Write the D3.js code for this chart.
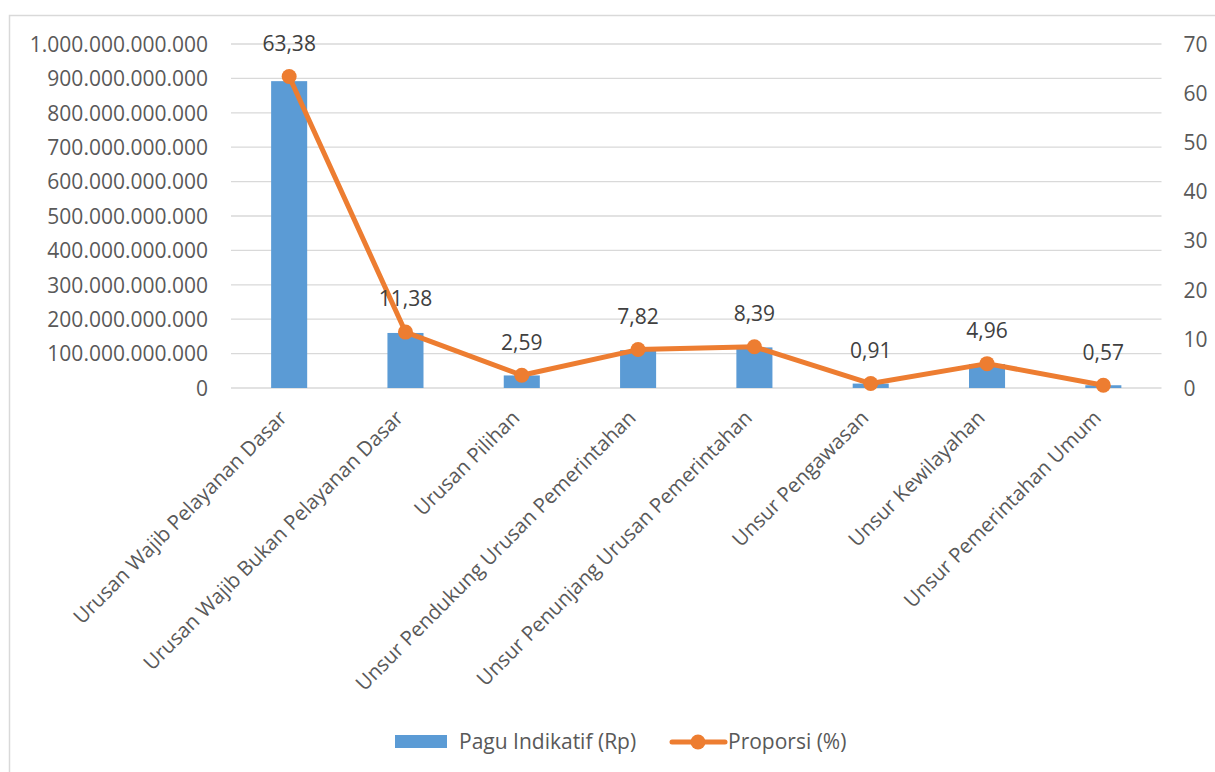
<!DOCTYPE html>
<meta charset="utf-8">
<style>
  html, body {
    margin: 0;
    padding: 0;
    background: #fff;
  }
  svg {
    display: block;
  }
  svg text {
    font-family: "Open Sans", sans-serif;
  }
  .grid line {
    stroke: #d9d9d9;
    stroke-width: 1.3;
  }
  .axis text {
    fill: #595959;
    font-size: 21px;
  }
  .axis.cat text {
    font-size: 20.4px;
  }
  .dlabel {
    fill: #404040;
    font-size: 21px;
  }
  .legend text {
    fill: #595959;
    font-size: 21px;
  }
</style>
<body>
<div id="chart"></div>
<script src="https://cdnjs.cloudflare.com/ajax/libs/d3/7.8.5/d3.min.js"></script>
<script>
var categories = [
  "Urusan Wajib Pelayanan Dasar",
  "Urusan Wajib Bukan Pelayanan Dasar",
  "Urusan Pilihan",
  "Unsur Pendukung Urusan Pemerintahan",
  "Unsur Penunjang Urusan Pemerintahan",
  "Unsur Pengawasan",
  "Unsur Kewilayahan",
  "Unsur Pemerintahan Umum"
];
// Pagu Indikatif (Rp)
var pagu = [892e9, 160e9, 36.5e9, 110e9, 118e9, 12.8e9, 69.8e9, 8e9];
// Proporsi (%)
var proporsi = [63.38, 11.38, 2.59, 7.82, 8.39, 0.91, 4.96, 0.57];
var leftTicks = [0, 1e11, 2e11, 3e11, 4e11, 5e11, 6e11, 7e11, 8e11, 9e11, 1e12];
var rightTicks = [0, 10, 20, 30, 40, 50, 60, 70];
var seriesNames = ["Pagu Indikatif (Rp)", "Proporsi (%)"];

var W = 1215, H = 772;
var plot = {left: 231, right: 1161.5, top: 44, bottom: 388};

var svg = d3.select("#chart").append("svg")
  .attr("width", W)
  .attr("height", H);

// chart frame
svg.append("rect")
  .attr("x", 9.5).attr("y", 15.5)
  .attr("width", W + 20).attr("height", H + 20)
  .attr("fill", "#fff")
  .attr("stroke", "#d9d9d9")
  .attr("stroke-width", 1.5);

var x = d3.scaleBand()
  .domain(categories)
  .range([plot.left, plot.right])
  .paddingInner(0.69)
  .paddingOuter(0.345);

var yL = d3.scaleLinear().domain([0, 1e12]).range([plot.bottom, plot.top]);
var yR = d3.scaleLinear().domain([0, 70]).range([plot.bottom, plot.top]);

var fmtRp = function(v) {
  return d3.format(",.0f")(v).replace(/,/g, ".");
};
var fmtPct = function(v) {
  return d3.format(".2f")(v).replace(".", ",");
};

// gridlines
svg.append("g")
  .attr("class", "grid")
  .selectAll("line")
  .data(leftTicks)
  .enter()
    .append("line")
    .attr("x1", plot.left)
    .attr("x2", plot.right)
    .attr("y1", function(d) { return yL(d); })
    .attr("y2", function(d) { return yL(d); });

// left axis
var gl = svg.append("g")
  .attr("class", "axis")
  .attr("transform", "translate(" + (plot.left - 23) + ",0)")
  .call(d3.axisLeft(yL).tickValues(leftTicks).tickFormat(fmtRp).tickSize(0).tickPadding(0));
gl.select(".domain").remove();
gl.selectAll("text").attr("dy", "0.35em");

// right axis
var gr = svg.append("g")
  .attr("class", "axis")
  .attr("transform", "translate(" + (plot.right + 22) + ",0)")
  .call(d3.axisRight(yR).tickValues(rightTicks).tickSize(0).tickPadding(0));
gr.select(".domain").remove();
gr.selectAll("text").attr("dy", "0.35em");

// category axis
var gx = svg.append("g")
  .attr("class", "axis cat")
  .attr("transform", "translate(0," + (plot.bottom + 14) + ")")
  .call(d3.axisBottom(x).tickSize(0).tickPadding(0));
gx.select(".domain").remove();
gx.selectAll("text")
  .attr("text-anchor", "end")
  .attr("dy", "0.35em")
  .attr("y", 0)
  .attr("transform", "translate(-6,12) rotate(-45)");

// bars
svg.append("g")
  .selectAll("rect")
  .data(pagu)
  .enter()
    .append("rect")
    .attr("x", function(d, i) { return x(categories[i]); })
    .attr("width", x.bandwidth())
    .attr("y", function(d) { return yL(d); })
    .attr("height", function(d) { return yL(0) - yL(d); })
    .attr("fill", "#5b9bd5");

// line
var cx = function(d, i) { return x(categories[i]) + x.bandwidth() / 2; };
var line = d3.line()
  .x(cx)
  .y(function(d) { return yR(d); });

svg.append("path")
  .datum(proporsi)
  .attr("d", line)
  .attr("fill", "none")
  .attr("stroke", "#ed7d31")
  .attr("stroke-width", 5)
  .attr("stroke-linejoin", "round")
  .attr("stroke-linecap", "round");

svg.append("g")
  .selectAll("circle")
  .data(proporsi)
  .enter()
    .append("circle")
    .attr("cx", cx)
    .attr("cy", function(d) { return yR(d); })
    .attr("r", 7.5)
    .attr("fill", "#ed7d31");

svg.append("g")
  .selectAll("text")
  .data(proporsi)
  .enter()
    .append("text")
    .attr("class", "dlabel")
    .attr("x", cx)
    .attr("y", function(d) { return yR(d) - 33; })
    .attr("dy", "0.35em")
    .attr("text-anchor", "middle")
    .text(fmtPct);

// legend
var lg = svg.append("g").attr("class", "legend");
lg.append("rect")
  .attr("x", 395).attr("y", 735)
  .attr("width", 52).attr("height", 13)
  .attr("fill", "#5b9bd5");
lg.append("text")
  .attr("x", 459).attr("y", 742).attr("dy", "0.35em")
  .text(seriesNames[0]);
lg.append("line")
  .attr("x1", 672).attr("x2", 725)
  .attr("y1", 742).attr("y2", 742)
  .attr("stroke", "#ed7d31")
  .attr("stroke-width", 5)
  .attr("stroke-linecap", "round");
lg.append("circle")
  .attr("cx", 698).attr("cy", 742).attr("r", 7.5)
  .attr("fill", "#ed7d31");
lg.append("text")
  .attr("x", 728).attr("y", 742).attr("dy", "0.35em")
  .text(seriesNames[1]);
</script>
</body>
